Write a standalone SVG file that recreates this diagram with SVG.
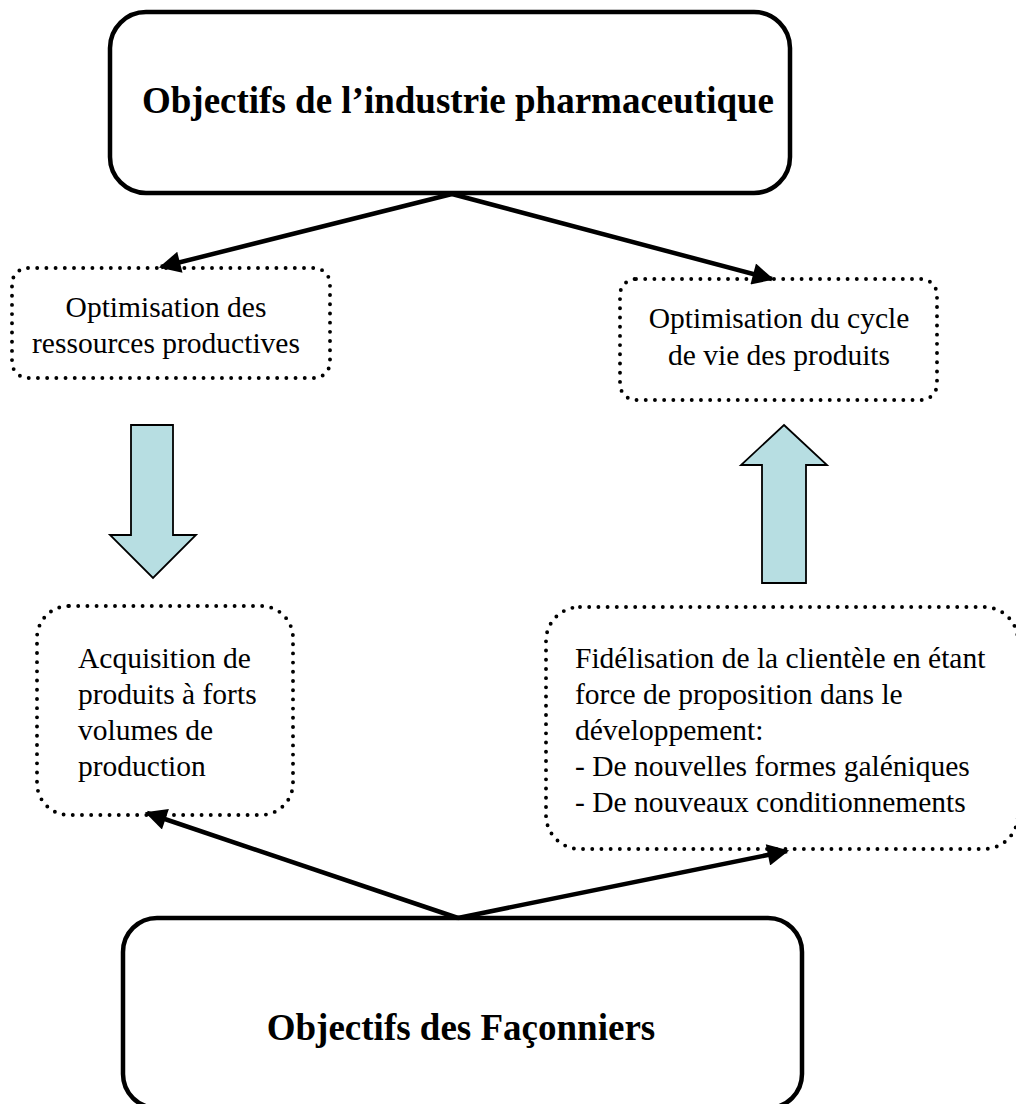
<svg xmlns="http://www.w3.org/2000/svg" width="1016" height="1104" viewBox="0 0 1016 1104">
<defs>
<style>
.main{fill:#fff;stroke:#000;stroke-width:4.5}
.dot{fill:none;stroke:#000;stroke-width:3.9;stroke-linecap:round;stroke-dasharray:0 9.2}
.big{font-family:"Liberation Serif","Times New Roman",serif;font-weight:bold;font-size:37px;fill:#000}
.txt{font-family:"Liberation Serif","Times New Roman",serif;font-size:29.5px;fill:#000}
.conn{stroke:#000;stroke-width:4.5;fill:none}
.blk{fill:#b7dee2;stroke:#000;stroke-width:1.8;stroke-linejoin:miter}
</style>
<marker id="ah" viewBox="0 0 10 10" refX="9" refY="5" markerWidth="5.4" markerHeight="4.8" orient="auto" markerUnits="strokeWidth">
<path d="M0,0 L10,5 L0,10 z" fill="#000"/>
</marker>
</defs>
<rect width="1016" height="1104" fill="#fff"/>
<g id="industrie">
<rect class="main" x="110" y="12" width="680" height="181" rx="36"/>
<text class="big" x="458" y="113" text-anchor="middle">Objectifs de l’industrie pharmaceutique</text>
</g>
<g id="ressources">
<rect class="dot" x="12" y="268" width="318" height="110" rx="16"/>
<text class="txt" x="166" y="317" text-anchor="middle">Optimisation des</text>
<text class="txt" x="166" y="353" text-anchor="middle">ressources productives</text>
</g>
<g id="cycle">
<rect class="dot" x="620" y="279" width="317" height="121" rx="16"/>
<text class="txt" x="779" y="328" text-anchor="middle">Optimisation du cycle</text>
<text class="txt" x="779" y="365" text-anchor="middle">de vie des produits</text>
</g>
<g id="acquisition">
<rect class="dot" x="37" y="606" width="256" height="209" rx="32"/>
<text class="txt" x="78" y="668">Acquisition de</text>
<text class="txt" x="78" y="704">produits à forts</text>
<text class="txt" x="78" y="740">volumes de</text>
<text class="txt" x="78" y="776">production</text>
</g>
<g id="fidelisation">
<rect class="dot" x="546" y="607" width="472" height="242" rx="34"/>
<text class="txt" x="575" y="668">Fidélisation de la clientèle en étant</text>
<text class="txt" x="575" y="704">force de proposition dans le</text>
<text class="txt" x="575" y="740">développement:</text>
<text class="txt" x="575" y="776">- De nouvelles formes galéniques</text>
<text class="txt" x="575" y="812">- De nouveaux conditionnements</text>
</g>
<g id="faconniers">
<rect class="main" x="123" y="918" width="679" height="190" rx="34"/>
<text class="big" x="461" y="1040" text-anchor="middle">Objectifs des Façonniers</text>
</g>
<g id="connectors">
<line class="conn" x1="452" y1="194" x2="161" y2="267" marker-end="url(#ah)"/>
<line class="conn" x1="452" y1="194" x2="772" y2="279" marker-end="url(#ah)"/>
<line class="conn" x1="458" y1="918" x2="147" y2="813" marker-end="url(#ah)"/>
<line class="conn" x1="458" y1="918" x2="787" y2="851" marker-end="url(#ah)"/>
<path class="blk" d="M131,425 L173,425 L173,535 L196,535 L153,578 L110,535 L131,535 Z"/>
<path class="blk" d="M784,425 L827,465 L806,465 L806,583 L762,583 L762,465 L741,465 Z"/>
</g>
</svg>
